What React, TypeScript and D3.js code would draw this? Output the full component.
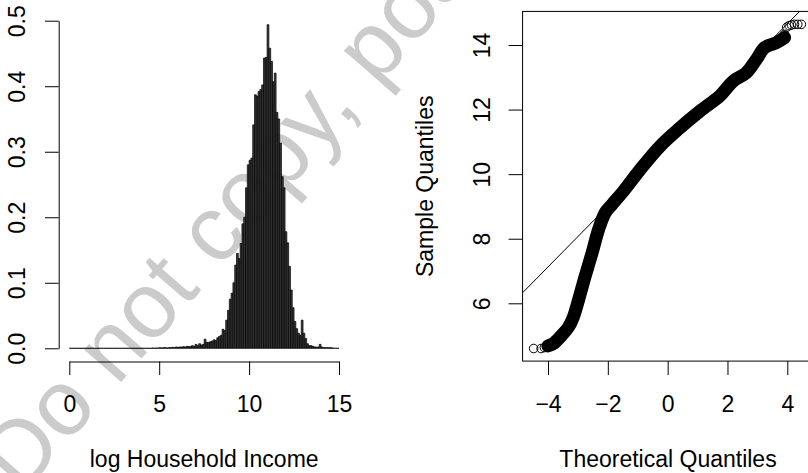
import React, { useEffect, useRef } from "react"
import * as d3 from "d3"

const W = 808
const H = 473

// left panel: density histogram of log household income, bins of 0.1 from 0 to 15
const binStart = 0
const binWidth = 0.1
const densities = [
  0, 0, 0, 0, 0, 0, 0, 0, 0, 0,
  0, 0, 0, 0, 0, 0, 0, 0, 0, 0,
  0, 0, 0, 0, 0, 0, 0, 0, 0, 0,
  0, 0, 0, 0, 0, 0, 0, 0, 0, 0,
  0, 0, 0, 0, 0, 0, 0.0005, 0, 0.0005, 0.0005,
  0.001, 0.0005, 0.001, 0.001, 0.0005, 0.001, 0.001, 0.0015, 0.001, 0.002,
  0.0015, 0.002, 0.002, 0.0025, 0.002, 0.003, 0.0025, 0.003, 0.004, 0.003,
  0.006, 0.004, 0.007, 0.005, 0.006, 0.014, 0.009, 0.009, 0.01, 0.011,
  0.013, 0.012, 0.016, 0.018, 0.02, 0.029, 0.027, 0.043, 0.058, 0.075,
  0.084, 0.1, 0.127, 0.145, 0.137, 0.16, 0.19, 0.2, 0.245, 0.28,
  0.287, 0.29, 0.341, 0.387, 0.385, 0.392, 0.395, 0.402, 0.443, 0.444,
  0.494, 0.458, 0.438, 0.407, 0.42, 0.36, 0.35, 0.313, 0.262, 0.245,
  0.178, 0.161, 0.125, 0.089, 0.062, 0.041, 0.03, 0.023, 0.02, 0.043,
  0.023, 0.015, 0.007, 0.004, 0.004, 0.003, 0.002, 0.002, 0.002, 0.006,
  0.002, 0.001, 0.001, 0.001, 0.001, 0.001, 0.0005, 0, 0, 0,
]
const histXTicks = [0, 5, 10, 15]
const histYTicks = [0, 0.1, 0.2, 0.3, 0.4, 0.5]

// right panel: normal Q-Q plot (dense middle read as a curve, sparse tails as points)
const theoQ = [-4.0, -3.81, -3.53, -3.31, -3.15, -2.98, -2.76, -2.53, -2.31, -2.09, -1.87, -1.48, -0.92, -0.26, 0.41, 1.08, 1.74, 2.19, 2.63, 2.97, 3.24, 3.63, 3.91]
const sampleQ = [4.68, 4.76, 5.02, 5.27, 5.58, 6.1, 6.83, 7.55, 8.28, 8.8, 9.05, 9.47, 10.14, 10.86, 11.43, 11.95, 12.42, 12.88, 13.14, 13.56, 13.92, 14.07, 14.23]
const tailTheo = [-4.48, -4.23, -4.12, -4.05, 3.91, 3.98, 4.06, 4.14, 4.24, 4.35, 4.47]
const tailSample = [4.6, 4.6, 4.63, 4.65, 14.33, 14.55, 14.6, 14.62, 14.64, 14.64, 14.64]
const qqIntercept = 10.89
const qqSlope = 0.941
const qqXTicks = [-4, -2, 0, 2, 4]
const qqYTicks = [6, 8, 10, 12, 14]
const qqXLim = [-4.85, 4.85]
const qqYLim = [4.21, 15.04]

const watermark = "Do not copy, post, or distribute"

export default function App() {
  const ref = useRef<SVGSVGElement>(null)

  useEffect(() => {
    const svg = d3.select(ref.current)
    svg.selectAll("*").remove()
    const font = "'Liberation Sans', Arial, Helvetica, sans-serif"
    const fs = 23

    // watermark behind everything
    svg.append("text")
      .attr("transform", "translate(22,496) rotate(-49)")
      .attr("font-family", font)
      .attr("font-size", 93)
      .attr("fill", "#cbcbcb")
      .text(watermark)

    // ---- histogram ----
    const x = d3.scaleLinear().domain([0, 15]).range([69.3, 339])
    const y = d3.scaleLinear().domain([0, 0.5]).range([348.3, 20.7])

    svg.append("g")
      .selectAll("path")
      .data(densities)
      .join("path")
      .attr("d", (d, i) => {
        const x0 = x(binStart + i * binWidth)
        const x1 = x(binStart + (i + 1) * binWidth)
        return `M${x0},${y(0)}V${y(d)}H${x1}V${y(0)}Z`
      })
      .attr("fill", "#3a3a3a")
      .attr("stroke", "#000")
      .attr("stroke-width", 0.7)

    const hx = svg.append("g")
      .attr("transform", "translate(0,361.5)")
      .call(d3.axisBottom(x).tickValues(histXTicks).tickSize(13.5).tickSizeOuter(0).tickFormat(d3.format("d")))
    hx.selectAll("text").attr("y", 50.5).attr("dy", 0)

    const hy = svg.append("g")
      .attr("transform", "translate(58.7,0)")
      .call(d3.axisLeft(y).tickValues(histYTicks).tickSize(13.7).tickSizeOuter(0).tickFormat(d3.format(".1f")))
    hy.selectAll("text")
      .attr("transform", "rotate(-90)")
      .attr("x", 0).attr("y", -33.7).attr("dy", 0)
      .attr("text-anchor", "middle")

    svg.append("text")
      .attr("x", 204.2).attr("y", 467)
      .attr("text-anchor", "middle")
      .attr("font-family", font).attr("font-size", fs)
      .text("log Household Income")

    // ---- Q-Q plot ----
    const xq = d3.scaleLinear().domain([-4, 4]).range([548, 787.3])
    const yq = d3.scaleLinear().domain([6, 14]).range([303.3, 45])

    const bx0 = xq(qqXLim[0]), bx1 = xq(qqXLim[1])
    const by0 = yq(qqYLim[1]), by1 = yq(qqYLim[0])

    svg.append("clipPath").attr("id", "qqclip")
      .append("rect")
      .attr("x", bx0).attr("y", by0)
      .attr("width", bx1 - bx0).attr("height", by1 - by0)

    svg.append("line")
      .attr("clip-path", "url(#qqclip)")
      .attr("x1", xq(qqXLim[0])).attr("y1", yq(qqIntercept + qqSlope * qqXLim[0]))
      .attr("x2", xq(qqXLim[1])).attr("y2", yq(qqIntercept + qqSlope * qqXLim[1]))
      .attr("stroke", "#000").attr("stroke-width", 1)

    const band = d3.line<number>()
      .x((d, i) => xq(theoQ[i]))
      .y(d => yq(d))
      .curve(d3.curveCatmullRom)
    svg.append("path")
      .attr("d", band(sampleQ))
      .attr("fill", "none")
      .attr("stroke", "#000")
      .attr("stroke-width", 13)
      .attr("stroke-linecap", "round")
      .attr("stroke-linejoin", "round")

    svg.append("g")
      .selectAll("circle")
      .data(tailSample)
      .join("circle")
      .attr("cx", (d, i) => xq(tailTheo[i]))
      .attr("cy", d => yq(d))
      .attr("r", 4.3)
      .attr("fill", "none")
      .attr("stroke", "#000")
      .attr("stroke-width", 1)

    svg.append("rect")
      .attr("x", bx0).attr("y", by0)
      .attr("width", bx1 - bx0).attr("height", by1 - by0)
      .attr("fill", "none").attr("stroke", "#000").attr("stroke-width", 1)

    const qx = svg.append("g")
      .attr("transform", `translate(0,${by1})`)
      .call(d3.axisBottom(xq).tickValues(qqXTicks).tickSize(14).tickSizeOuter(0))
    qx.select(".domain").remove()
    qx.selectAll("text").attr("y", 51).attr("dy", 0)

    const qy = svg.append("g")
      .attr("transform", `translate(${bx0},0)`)
      .call(d3.axisLeft(yq).tickValues(qqYTicks).tickSize(14).tickSizeOuter(0))
    qy.select(".domain").remove()
    qy.selectAll("text")
      .attr("transform", "rotate(-90)")
      .attr("x", 0).attr("y", -33).attr("dy", 0)
      .attr("text-anchor", "middle")

    svg.append("text")
      .attr("x", 668).attr("y", 467)
      .attr("text-anchor", "middle")
      .attr("font-family", font).attr("font-size", fs)
      .text("Theoretical Quantiles")

    svg.append("text")
      .attr("transform", `translate(432.5,${(by0 + by1) / 2}) rotate(-90)`)
      .attr("text-anchor", "middle")
      .attr("font-family", font).attr("font-size", fs)
      .text("Sample Quantiles")

    svg.selectAll(".tick text").attr("font-family", font).attr("font-size", fs).attr("fill", "#000")
    svg.selectAll(".tick line").attr("stroke", "#000")
    svg.selectAll(".domain").attr("stroke", "#000")
  }, [])

  return <svg ref={ref} width={W} height={H} style={{ position: "absolute", left: 0, top: 0, background: "#fff" }} />
}
